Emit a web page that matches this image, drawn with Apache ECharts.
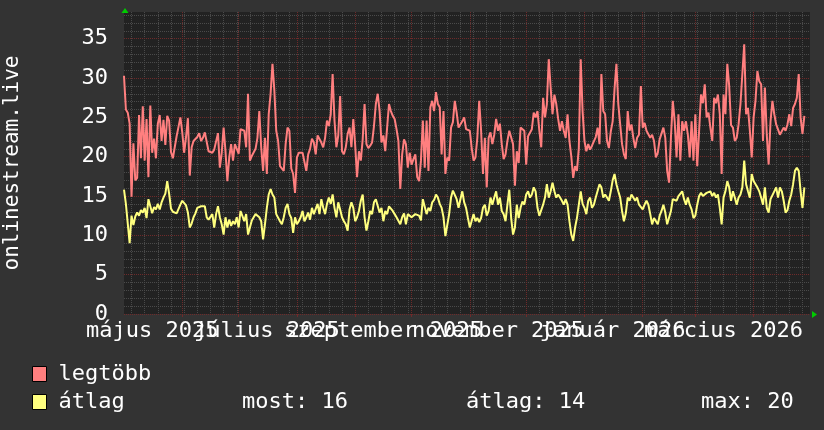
<!DOCTYPE html>
<html><head><meta charset="utf-8">
<script src="https://cdn.jsdelivr.net/npm/echarts@6/dist/echarts.min.js"></script>
<style>html,body{margin:0;padding:0;background:#333333;}#c{width:824px;height:430px;}</style>
</head><body><div id="c"></div>
<script>
// x = day offset from 2025-05-01
const startDate = '2025-05-01';
const xLabelDays = [15, 76, 138, 199, 260, 319];
const xLabelTexts = ['május 2025', 'július 2025', 'szeptember 2025', 'november 2025', 'január 2026', 'március 2026'];
const monthStartDays = [31, 61, 92, 123, 153, 184, 214, 245, 276, 304, 335];
const yTickValues = [0, 5, 10, 15, 20, 25, 30, 35];
const seriesNames = ['legtöbb', 'átlag'];
const statLabels = ['most: 16', 'átlag: 14', 'max: 20'];
const axisTitle = 'onlinestream.live';

const maxValues = [
30.3,26.0,25.6,24.2,14.9,21.7,17.0,17.3,25.3,19.8,
26.4,19.5,24.8,17.4,26.5,20.5,22.3,19.8,24.2,25.3,
22.0,24.7,21.5,25.2,24.6,20.6,19.8,19.6,22.6,23.8,
25.0,23.1,20.5,22.5,24.9,17.6,21.2,22.0,21.8,22.5,
23.0,22.0,22.4,23.1,23.0,20.7,20.9,20.5,20.9,20.7,
23.0,18.6,20.5,23.7,20.7,16.9,19.9,21.6,19.5,21.6,
21.8,20.4,23.5,23.7,23.3,21.2,28.0,19.5,20.1,19.9,
21.0,22.4,25.8,21.2,18.2,22.4,17.8,25.4,28.0,31.8,
28.4,23.3,22.0,18.8,18.6,18.2,21.6,23.7,23.3,18.5,
17.8,15.4,19.9,20.5,20.7,20.5,20.7,18.2,20.3,21.0,
22.3,21.8,20.3,22.7,22.9,21.8,21.2,22.4,24.6,23.9,
25.4,30.5,24.6,21.2,22.7,27.7,20.7,20.3,21.2,22.9,
23.7,21.2,24.8,21.5,17.4,20.7,19.5,22.2,26.7,21.6,
21.1,21.4,21.8,23.9,26.7,28.0,25.8,21.8,22.7,20.7,
23.7,26.7,25.8,25.2,24.8,23.5,22.0,15.9,20.3,22.2,
21.6,18.6,20.5,19.0,19.7,20.3,17.4,16.9,19.5,24.6,
18.6,24.6,18.2,26.3,27.1,25.8,28.2,26.7,26.3,20.3,
25.8,17.8,19.9,19.5,23.7,24.4,27.1,25.6,23.7,23.5,
24.5,25.0,23.5,23.7,23.3,21.1,19.5,19.9,22.4,27.1,
23.3,17.8,22.4,16.1,22.4,23.1,21.6,22.8,24.8,23.3,
24.2,21.6,19.7,20.3,22.0,23.3,23.5,21.6,16.3,20.7,
19.2,23.7,23.9,23.3,19.0,22.6,22.8,23.5,25.6,25.0,
25.8,23.3,21.2,27.5,25.0,26.7,32.4,28.8,25.4,27.9,
26.7,24.8,23.3,24.5,23.3,22.4,25.4,22.0,20.0,17.3,
18.8,18.2,21.1,32.4,25.8,22.0,20.7,21.6,20.9,21.4,
21.6,22.5,23.7,21.6,30.5,25.8,25.4,22.0,21.1,23.2,
24.5,28.6,31.8,26.7,24.1,21.6,20.3,19.7,25.8,23.3,
24.1,22.4,21.1,22.4,22.8,29.0,23.7,24.3,23.3,23.3,
22.4,22.8,22.0,19.9,20.5,22.2,22.0,23.7,22.4,18.2,
16.7,22.4,27.1,24.5,19.9,25.4,19.5,24.5,23.3,24.5,
22.8,19.9,24.5,19.5,25.4,18.8,23.3,27.9,26.8,29.2,
25.0,25.6,23.7,22.0,27.5,26.8,27.9,25.4,17.8,27.9,
25.4,31.8,29.0,24.0,23.7,22.0,22.4,24.1,26.7,26.5,
34.3,25.4,26.2,23.3,19.9,25.0,27.1,30.9,29.6,29.2,
22.0,28.8,22.8,19.0,24.5,27.1,25.4,24.1,24.1,22.8,
22.6,23.7,23.3,24.1,25.4,23.9,26.2,26.7,27.5,30.5,
25.0,22.9,25.2
];
const avgValues = [
15.8,14.0,14.2,9.0,12.5,11.3,12.4,12.9,12.5,13.2,
12.9,13.5,12.2,14.6,14.5,12.8,13.6,13.3,14.0,13.3,
14.2,14.8,15.3,16.9,15.3,13.4,13.0,12.9,12.8,12.6,
13.9,14.4,14.2,13.8,12.9,11.0,11.5,12.3,12.8,13.5,
13.7,13.7,13.6,13.7,12.3,12.0,11.8,12.7,11.0,12.7,
13.7,12.3,11.4,10.1,12.3,11.0,12.0,11.2,11.8,11.4,
12.3,11.0,13.1,12.9,11.8,12.7,10.1,11.0,11.9,12.3,
12.7,12.9,12.3,11.8,9.5,11.4,13.5,15.2,15.9,15.2,
14.8,12.7,12.7,11.8,11.4,12.3,13.5,14.0,12.7,12.2,
10.3,12.3,11.4,11.8,12.3,13.1,11.8,12.3,12.9,12.0,
13.5,12.7,12.8,14.0,12.7,14.6,13.5,12.7,14.0,14.8,
14.0,15.2,13.5,12.3,14.2,13.3,12.3,11.8,11.4,10.6,
13.3,14.2,13.5,11.8,12.3,13.1,14.4,15.2,12.3,10.6,
11.8,13.1,12.7,14.2,14.6,14.8,12.9,13.5,11.8,13.1,
12.7,13.7,13.4,13.1,12.7,12.3,12.3,11.4,12.3,12.8,
11.4,12.7,12.9,12.3,12.5,12.7,12.9,12.5,11.9,14.6,
14.4,12.7,13.5,13.1,14.2,14.5,15.2,14.8,14.0,13.5,
12.3,9.9,9.7,12.7,14.8,15.7,15.9,14.6,13.5,14.6,
15.6,14.2,13.5,12.2,11.0,11.0,12.7,11.8,12.2,11.7,
12.2,13.5,13.9,12.5,13.1,14.8,13.9,14.8,15.6,13.9,
14.8,13.1,12.7,11.8,13.9,15.8,12.2,10.1,11.0,13.9,
12.2,13.5,14.3,13.9,15.2,15.6,14.8,15.2,16.1,15.6,
13.5,12.5,12.7,13.9,14.8,16.5,14.8,15.6,16.7,15.6,
14.8,15.2,14.8,14.4,13.9,14.6,13.9,11.8,10.1,9.3,
11.0,12.2,13.9,15.6,14.0,13.5,12.7,14.4,14.8,13.5,
13.9,14.8,14.6,16.5,16.1,14.8,15.2,14.8,14.4,15.6,
17.0,17.8,16.5,15.6,14.8,13.1,11.8,12.8,14.8,14.4,
15.2,14.8,14.4,14.8,13.9,13.7,13.3,13.9,14.4,13.9,
12.7,11.4,12.2,12.4,11.4,12.5,13.1,13.9,12.9,11.4,
11.6,13.1,14.6,14.8,14.4,15.0,14.8,15.6,14.6,13.9,
14.8,13.9,13.3,12.2,12.5,13.9,15.0,15.4,15.0,15.2,
15.4,15.2,15.6,15.0,15.4,14.8,15.2,13.5,11.4,14.8,
15.6,16.9,16.1,14.4,15.6,14.8,13.9,14.8,15.2,16.1,
19.5,16.5,15.6,14.8,17.8,16.9,16.5,16.1,15.6,14.8,
13.9,16.1,13.5,12.9,14.6,14.4,15.6,16.1,14.8,16.1,
15.6,14.4,12.9,13.2,14.4,15.2,16.5,18.2,18.6,18.2,
15.6,13.5,16.1
];

const FONT = "'DejaVu Sans Mono', monospace";
const weekDays = []; for (let d = 4; d < 365; d += 7) weekDays.push(d);
const yMinor = []; for (let v = 0; v <= 38; v++) yMinor.push(v);
const GRAY = '#4a4a4a', RED = '#6e2a2a';

const baseX = { type: 'value', min: 0, max: 365, position: 'bottom',
  axisLine: { show: false }, axisLabel: { show: false }, splitLine: { show: false } };

// two label axes (alternating labels) so overlapping month labels are all kept, like the reference
function labelAxis(parity) {
  const vals = xLabelDays.filter((d, i) => i % 2 === parity);
  return Object.assign({}, baseX, {
    axisTick: { show: false, customValues: vals },
    axisLabel: { show: true, customValues: vals, color: '#ffffff', fontFamily: FONT, fontSize: 22, margin: 6,
      showMinLabel: true, showMaxLabel: true, hideOverlap: false,
      formatter: v => { const i = xLabelDays.indexOf(Math.round(v)); return i >= 0 ? xLabelTexts[i] : ''; } },
    z: 2
  });
}

const chart = echarts.init(document.getElementById('c'), null, { renderer: 'canvas' });
chart.setOption({
  backgroundColor: '#333333',
  animation: false,
  grid: { left: 124, right: 14, top: 12, bottom: 116, show: true, backgroundColor: '#222222', borderWidth: 0, outerBoundsMode: 'none' },
  xAxis: [
    labelAxis(0),
    labelAxis(1),
    Object.assign({}, baseX, {
      axisTick: { show: false, customValues: weekDays },
      splitLine: { show: true, lineStyle: { color: GRAY, width: 1, type: [1, 1] } }, z: 0
    }),
    Object.assign({}, baseX, {
      axisTick: { show: true, customValues: monthStartDays, length: 3, lineStyle: { color: RED } },
      splitLine: { show: true, lineStyle: { color: RED, width: 1, type: [1, 1] } }, z: 1
    })
  ],
  yAxis: [
    { type: 'value', min: 0, max: 38.4, axisLine: { show: false },
      axisTick: { show: false, customValues: yTickValues },
      axisLabel: { customValues: yTickValues, color: '#ffffff', fontFamily: FONT, fontSize: 22, margin: 16,
        showMinLabel: true, showMaxLabel: true },
      splitLine: { show: true, lineStyle: { color: RED, width: 1, type: [1, 1] } },
      name: axisTitle, nameLocation: 'middle', nameGap: 101, nameMoveOverlap: false,
      nameTextStyle: { color: '#ffffff', fontFamily: FONT, fontSize: 21 }, z: 1 },
    { type: 'value', min: 0, max: 38.4, axisLine: { show: false }, axisLabel: { show: false },
      axisTick: { show: false, customValues: yMinor },
      splitLine: { show: true, lineStyle: { color: GRAY, width: 1, type: [1, 1] } }, z: 0 }
  ],
  legend: {
    orient: 'vertical', left: 32, top: 363, padding: 0, itemWidth: 14, itemHeight: 15, itemGap: 6,
    icon: 'rect', selectedMode: false,
    itemStyle: { borderColor: '#000000', borderWidth: 1 },
    textStyle: { color: '#ffffff', fontFamily: FONT, fontSize: 22, lineHeight: 22, padding: [0, 0, 0, 7] },
    data: seriesNames
  },
  series: [
    { type: 'line', name: seriesNames[0], data: maxValues.map((v, i) => [i, v]), showSymbol: false,
      lineStyle: { color: '#ff7f7f', width: 2 }, itemStyle: { color: '#ff7f7f' }, z: 3 },
    { type: 'line', name: seriesNames[1], data: avgValues.map((v, i) => [i, v]), showSymbol: false,
      lineStyle: { color: '#ffff7f', width: 2 }, itemStyle: { color: '#ffff7f' }, z: 3 }
  ],
  graphic: [
    { type: 'text', left: 242, top: 391, style: { text: statLabels[0], fill: '#ffffff', font: "22px 'DejaVu Sans Mono'" } },
    { type: 'text', left: 466, top: 391, style: { text: statLabels[1], fill: '#ffffff', font: "22px 'DejaVu Sans Mono'" } },
    { type: 'text', left: 701, top: 391, style: { text: statLabels[2], fill: '#ffffff', font: "22px 'DejaVu Sans Mono'" } },
    { type: 'polygon', shape: { points: [[121.5, 13], [128.5, 13], [125, 8]] }, style: { fill: '#00cc00' }, z: 10 },
    { type: 'polygon', shape: { points: [[812, 311], [812, 318], [817, 314.5]] }, style: { fill: '#00cc00' }, z: 10 }
  ]
});
</script></body></html>
